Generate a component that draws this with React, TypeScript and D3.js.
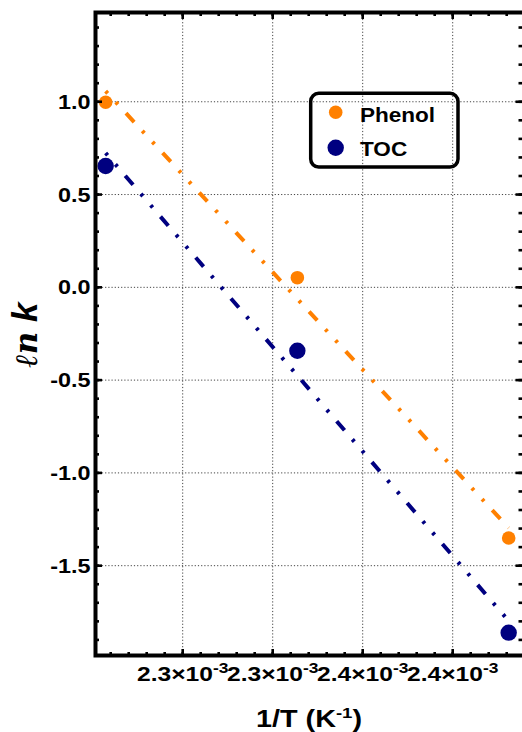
import React from 'react';
import * as d3 from 'd3';

// 1/T values (K^-1) and ln k for each series
const invT = [2.2072e-3, 2.3137e-3, 2.4311e-3];
const phenol = [0.997, 0.052, -1.351];
const toc = [0.654, -0.342, -1.861];

const xTicks = [2.25e-3, 2.3e-3, 2.35e-3, 2.4e-3];
const xTickLabels = ['2.3', '2.3', '2.4', '2.4'];
const yTicks = [1.0, 0.5, 0.0, -0.5, -1.0, -1.5];
const yTickLabels = ['1.0', '0.5', '0.0', '-0.5', '-1.0', '-1.5'];

const seriesNames = ['Phenol', 'TOC'];
const seriesColors = ['#ff8000', '#000080'];
const seriesRadius = [6.8, 8.2];

const W = 522;
const H = 732;
const frame = { left: 95.5, top: 12.5, right: 524, bottom: 655.5 };
const FONT = '"Liberation Sans", Arial, sans-serif';
const STRETCH = 1.2;

// least squares fit
const fit = (xs: number[], ys: number[]) => {
  const mx = d3.mean(xs) as number;
  const my = d3.mean(ys) as number;
  let sxy = 0;
  let sxx = 0;
  xs.forEach((v, i) => {
    sxy += (v - mx) * (ys[i] - my);
    sxx += (v - mx) * (v - mx);
  });
  const b = sxy / sxx;
  return (v: number) => my + b * (v - mx);
};

const App = () => {
  const x = d3.scaleLinear().domain([2.20156e-3, 2.43961e-3]).range([frame.left, frame.right]);
  const y = d3.scaleLinear().domain([1.481, -1.984]).range([frame.top, frame.bottom]);

  const minorX = d3.ticks(x.domain()[0], x.domain()[1], 24);
  const minorY = d3.ticks(y.domain()[1], y.domain()[0], 35);

  const series = [phenol, toc];
  const line = d3.line<[number, number]>().x(d => x(d[0])).y(d => y(d[1]));
  const xExt = d3.extent(invT) as [number, number];

  const tickSide = (len: number, vals: number[], axis: 'x' | 'y', key: string) =>
    vals.map((v, i) => {
      if (axis === 'x') {
        const px = x(v);
        return (
          <g key={`${key}${i}`}>
            <line x1={px} x2={px} y1={frame.bottom} y2={frame.bottom - len} stroke="#000" strokeWidth={2.6} />
            <line x1={px} x2={px} y1={frame.top} y2={frame.top + len} stroke="#000" strokeWidth={2.6} />
          </g>
        );
      }
      const py = y(v);
      return (
        <g key={`${key}${i}`}>
          <line x1={frame.left} x2={frame.left + len} y1={py} y2={py} stroke="#000" strokeWidth={2.6} />
          <line x1={frame.right - 2} x2={frame.right - 2 - len} y1={py} y2={py} stroke="#000" strokeWidth={2.6} />
        </g>
      );
    });

  return (
    <svg width={W} height={H} style={{ position: 'absolute', left: 0, top: 0, background: '#fff' }}>
      {/* grid */}
      <g stroke="#444" strokeWidth={1} strokeDasharray="1.2,2">
        {xTicks.map((v, i) => (
          <line key={`gx${i}`} x1={x(v)} x2={x(v)} y1={frame.top} y2={frame.bottom} />
        ))}
        {yTicks.map((v, i) => (
          <line key={`gy${i}`} x1={frame.left} x2={frame.right} y1={y(v)} y2={y(v)} />
        ))}
      </g>

      {/* fitted lines */}
      {series.map((ys, si) => {
        const f = fit(invT, ys);
        return (
          <path
            key={`fit${si}`}
            d={line([[xExt[0], f(xExt[0])], [xExt[1], f(xExt[1])]]) as string}
            fill="none"
            stroke={seriesColors[si]}
            strokeWidth={4}
            strokeDasharray="3,12,3,12,12,12"
          />
        );
      })}

      {/* points */}
      {series.map((ys, si) =>
        ys.map((v, i) => (
          <circle key={`p${si}-${i}`} cx={x(invT[i])} cy={y(v)} r={seriesRadius[si]} fill={seriesColors[si]} />
        ))
      )}

      {/* frame + ticks */}
      {tickSide(3.5, minorX, 'x', 'mx')}
      {tickSide(3.5, minorY, 'y', 'my')}
      {tickSide(6.5, xTicks, 'x', 'Mx')}
      {tickSide(6.5, yTicks, 'y', 'My')}
      <rect
        x={frame.left}
        y={frame.top}
        width={frame.right - frame.left}
        height={frame.bottom - frame.top}
        fill="none"
        stroke="#000"
        strokeWidth={4}
      />

      {/* y tick labels */}
      {yTicks.map((v, i) => (
        <text
          key={`yl${i}`}
          transform={`translate(90.5,${y(v) + 7}) scale(${STRETCH},1)`}
          textAnchor="end"
          fontFamily={FONT}
          fontWeight="bold"
          fontSize={19.5}
        >
          {yTickLabels[i]}
        </text>
      ))}

      {/* x tick labels */}
      {xTicks.map((v, i) => (
        <text
          key={`xl${i}`}
          transform={`translate(${x(v)},681) scale(${STRETCH},1)`}
          textAnchor="middle"
          fontFamily={FONT}
          fontWeight="bold"
          fontSize={20.5}
        >
          {xTickLabels[i]}×10
          <tspan fontSize={14.5} dy={-8}>-3</tspan>
        </text>
      ))}

      {/* axis titles */}
      <text
        transform={`translate(309,727) scale(1.2,1)`}
        textAnchor="middle"
        fontFamily={FONT}
        fontWeight="bold"
        fontSize={24}
      >
        1/T (K<tspan fontSize={15.5} dy={-9.5}>-1</tspan>
        <tspan dy={9.5}>)</tspan>
      </text>
      <text transform="translate(37,335) rotate(-90)" textAnchor="middle" fontWeight="bold" fontStyle="italic">
        <tspan fontFamily='"DejaVu Serif", serif' fontSize={31}>ℓn</tspan>
        <tspan fontFamily={FONT} fontSize={35}> k</tspan>
      </text>

      {/* legend */}
      <rect x={310.7} y={93.3} width={147.3} height={73.7} rx={8} fill="none" stroke="#000" strokeWidth={3.5} />
      {seriesNames.map((name, i) => (
        <g key={`lg${i}`}>
          <circle cx={335.7} cy={112.3 + i * 35.4} r={seriesRadius[i]} fill={seriesColors[i]} />
          <text
            transform={`translate(360,${121.7 + i * 34.3}) scale(1.1,1)`}
            fontFamily={FONT}
            fontWeight="bold"
            fontSize={20.5}
          >
            {name}
          </text>
        </g>
      ))}
    </svg>
  );
};

export default App;
